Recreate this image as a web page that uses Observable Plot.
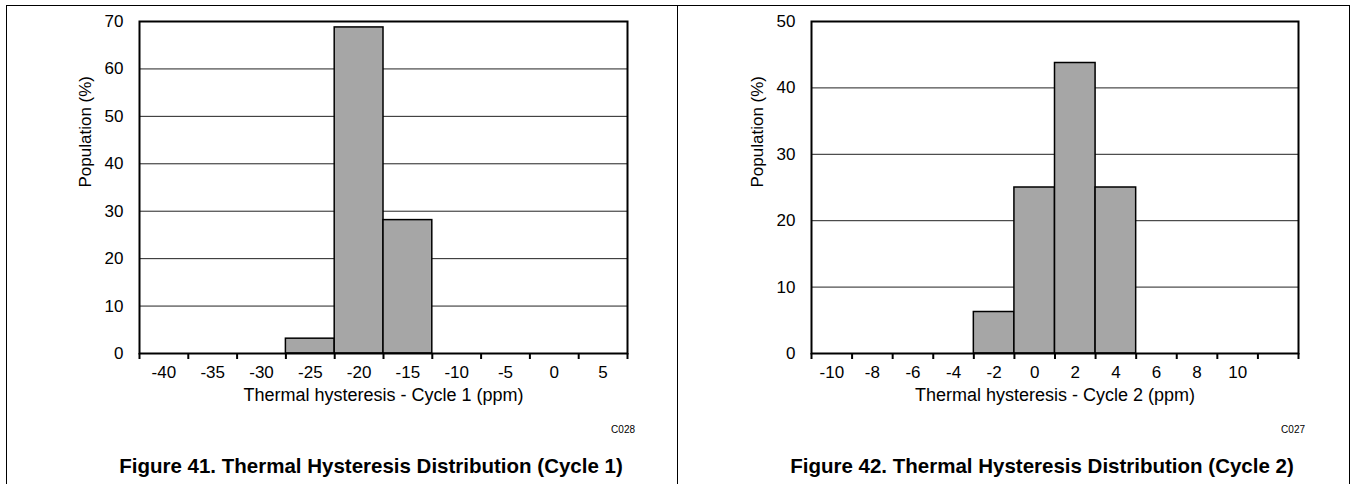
<!DOCTYPE html>
<html>
<head>
<meta charset="utf-8">
<script src="https://cdn.jsdelivr.net/npm/d3@7"></script>
<script src="https://cdn.jsdelivr.net/npm/@observablehq/plot@0.6"></script>
<style>
  html, body { margin: 0; padding: 0; background: #fff; }
  body { width: 1351px; height: 484px; position: relative; overflow: hidden;
         font-family: "Liberation Sans", Arial, sans-serif; color: #000; }
  .abs { position: absolute; }
  .box { left: 6px; top: 5px; width: 1344px; height: 500px; box-sizing: border-box;
         border-left: 1px solid #000; border-top: 1px solid #000; border-right: 1px solid #000; }
  .divider { left: 677px; top: 5px; width: 1px; height: 480px; background: #000; }
  .caption { width: 640px; text-align: center; font-weight: bold; font-size: 20.5px; line-height: 22px; top: 455px; }
  .code { width: 100px; text-align: right; font-size: 10px; line-height: 12px; top: 424px; }
</style>
</head>
<body>
<div class="abs box"></div>
<div class="abs divider"></div>
<div id="c1" class="abs" style="left:0px;top:0px;"></div>
<div id="c2" class="abs" style="left:678px;top:0px;"></div>
<div class="abs code" style="left:535px;">C028</div>
<div class="abs code" style="left:1205px;">C027</div>
<div class="abs caption" style="left:51px;">Figure 41. Thermal Hysteresis Distribution (Cycle 1)</div>
<div class="abs caption" style="left:722px;">Figure 42. Thermal Hysteresis Distribution (Cycle 2)</div>
<script>
// ---- Data ----
const cycle1Centers = [-40, -35, -30, -25, -20, -15, -10, -5, 0, 5];
const cycle1Pct     = [0, 0, 0, 3.125, 68.75, 28.125, 0, 0, 0, 0];
const cycle1BinWidth = 5;
const cycle1TickLabels = [-40, -35, -30, -25, -20, -15, -10, -5, 0, 5];
const cycle1YTicks = [0, 10, 20, 30, 40, 50, 60, 70];

const cycle2Centers = [-10, -8, -6, -4, -2, 0, 2, 4, 6, 8, 10, 12];
const cycle2Pct     = [0, 0, 0, 0, 6.25, 25, 43.75, 25, 0, 0, 0, 0];
const cycle2BinWidth = 2;
const cycle2TickLabels = [-10, -8, -6, -4, -2, 0, 2, 4, 6, 8, 10];
const cycle2YTicks = [0, 10, 20, 30, 40, 50];

const yTitle = "Population (%)";
const cycle1XTitle = "Thermal hysteresis - Cycle 1 (ppm)";
const cycle2XTitle = "Thermal hysteresis - Cycle 2 (ppm)";

const FONT = '"Liberation Sans", Arial, sans-serif';

function histogram({centers, pct, binWidth, tickLabels, yTicks, xTitle, width, marginLeft, marginRight}) {
  const data = centers.map((c, i) => ({x1: c - binWidth / 2, x2: c + binWidth / 2, pct: pct[i]}));
  const edges = centers.map(c => c - binWidth / 2).concat([centers[centers.length - 1] + binWidth / 2]);
  const domain = [edges[0], edges[edges.length - 1]];
  const grid = yTicks.slice(1, -1);
  return Plot.plot({
    width, height: 400,
    marginLeft, marginRight, marginTop: 21, marginBottom: 47,
    style: {fontFamily: FONT, fontSize: "17px", color: "#000", background: "transparent", overflow: "visible"},
    x: {domain},
    y: {domain: [yTicks[0], yTicks[yTicks.length - 1]]},
    marks: [
      Plot.ruleY(grid, {stroke: "#222", strokeWidth: 1}),
      Plot.rectY(data, {x1: "x1", x2: "x2", y: "pct", fill: "#a6a6a6", stroke: "#000", strokeWidth: 1.5}),
      Plot.frame({stroke: "#000", strokeWidth: 2}),
      Plot.axisY({ticks: yTicks, tickSize: 0, tickPadding: 16, tickFormat: d => String(d), label: null, fontSize: 17}),
      Plot.axisX({ticks: edges, tickSize: 6, strokeWidth: 2, tickFormat: () => "", label: null}),
      Plot.axisX({ticks: tickLabels, tickSize: 0, tickPadding: 12, tickFormat: d => String(d), label: null, fontSize: 17}),
      Plot.text([xTitle], {frameAnchor: "bottom", dy: 47, fontSize: 18, fill: "#000"}),
      Plot.text([yTitle], {frameAnchor: "left", dx: -54, rotate: -90, fontSize: 17, fill: "#000"})
    ]
  });
}

document.getElementById("c1").appendChild(histogram({
  centers: cycle1Centers, pct: cycle1Pct, binWidth: cycle1BinWidth, tickLabels: cycle1TickLabels,
  yTicks: cycle1YTicks, xTitle: cycle1XTitle, width: 678, marginLeft: 139, marginRight: 51
}));
document.getElementById("c2").appendChild(histogram({
  centers: cycle2Centers, pct: cycle2Pct, binWidth: cycle2BinWidth, tickLabels: cycle2TickLabels,
  yTicks: cycle2YTicks, xTitle: cycle2XTitle, width: 673, marginLeft: 133, marginRight: 53
}));
</script>
</body>
</html>
